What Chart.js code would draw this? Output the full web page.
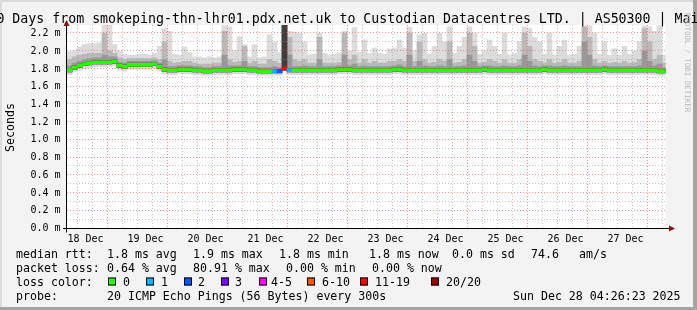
<!DOCTYPE html>
<html><head><meta charset="utf-8">
<script src="https://cdn.jsdelivr.net/npm/chart.js@4/dist/chart.umd.min.js"></script>
<style>html,body{margin:0;padding:0;background:#f3f3f3;overflow:hidden}canvas{display:block}</style>
</head><body>
<canvas id="c" width="697" height="310"></canvas>
<script>
// ---- data (hours since 18 Dec 00:00, 2-hour bins, values in ms) ----
const binHours = [
 6,8,10,12,14,16,18,20,22,24, 26,28,30,32,34,36,38,40,42,44,
 46,48,50,52,54,56,58,60,62,64, 66,68,70,72,74,76,78,80,82,84,
 86,88,90,92,94,96,98,100,102,104, 106,108,110,112,114,116,118,120,122,124,
 126,128,130,132,134,136,138,140,142,144, 146,148,150,152,154,156,158,160,162,164,
 166,168,170,172,174,176,178,180,182,184, 186,188,190,192,194,196,198,200,202,204,
 206,208,210,212,214,216,218,220,222,224, 226,228,230,232,234,236,238,240,242,244];
const medianRtt = [
 1.78,1.81,1.83,1.85,1.86,1.87,1.87,1.87,1.87,1.88,
 1.83,1.82,1.84,1.84,1.84,1.84,1.84,1.85,1.82,1.79,
 1.78,1.78,1.79,1.79,1.79,1.78,1.78,1.77,1.77,1.78,
 1.78,1.78,1.78,1.79,1.79,1.79,1.78,1.78,1.77,1.77,
 1.77,1.77,1.77,1.80,1.78,1.78,1.78,1.78,1.78,1.78,
 1.78,1.78,1.78,1.78,1.79,1.79,1.79,1.78,1.78,1.78,
 1.78,1.78,1.78,1.78,1.78,1.79,1.79,1.78,1.78,1.78,
 1.78,1.78,1.78,1.78,1.78,1.78,1.78,1.78,1.78,1.78,
 1.78,1.78,1.78,1.79,1.78,1.78,1.78,1.78,1.78,1.78,
 1.78,1.78,1.78,1.78,1.78,1.79,1.78,1.78,1.78,1.78,
 1.78,1.78,1.78,1.78,1.78,1.78,1.78,1.79,1.78,1.78,
 1.78,1.78,1.78,1.78,1.78,1.78,1.78,1.78,1.77,1.77];
const lossPct = [
 0,0,0,0,0,0,0,0,0,0, 0,0,0,0,0,0,0,0,0,0,
 0,0,0,0,0,0,0,0,0,0, 0,0,0,0,0,0,0,0,0,0,
 0,1,2,15,1,0,0,0,0,0, 0,0,0,0,0,0,0,0,0,0,
 0,0,0,0,0,0,0,0,0,0, 0,0,0,0,0,0,0,0,0,0,
 0,0,0,0,0,0,0,0,0,0, 0,0,0,0,0,0,0,0,0,0,
 0,0,0,0,0,0,0,0,0,0, 0,0,0,0,0,0,0,0,0,0];
const minRtt = [
 1.73,1.76,1.78,1.80,1.81,1.82,1.82,1.82,1.82,1.83,
 1.78,1.77,1.79,1.79,1.79,1.79,1.79,1.80,1.77,1.74,
 1.73,1.73,1.74,1.74,1.74,1.73,1.73,1.72,1.72,1.73,
 1.73,1.73,1.73,1.74,1.74,1.74,1.73,1.73,1.72,1.72,
 1.72,1.72,1.72,1.77,1.73,1.73,1.73,1.73,1.73,1.73,
 1.73,1.73,1.73,1.73,1.74,1.74,1.74,1.73,1.73,1.73,
 1.73,1.73,1.73,1.73,1.73,1.74,1.74,1.73,1.73,1.73,
 1.73,1.73,1.73,1.73,1.73,1.73,1.73,1.73,1.73,1.73,
 1.73,1.73,1.73,1.74,1.73,1.73,1.73,1.73,1.73,1.73,
 1.73,1.73,1.73,1.73,1.73,1.74,1.73,1.73,1.73,1.73,
 1.73,1.73,1.73,1.73,1.73,1.73,1.73,1.74,1.73,1.73,
 1.73,1.73,1.73,1.73,1.73,1.73,1.73,1.73,1.72,1.72];
const q1Rtt = [
 1.76,1.79,1.81,1.83,1.84,1.85,1.85,1.85,1.85,1.86,
 1.81,1.80,1.82,1.82,1.82,1.82,1.82,1.83,1.80,1.77,
 1.76,1.76,1.77,1.77,1.77,1.76,1.76,1.75,1.75,1.76,
 1.76,1.76,1.76,1.77,1.77,1.77,1.76,1.76,1.75,1.75,
 1.75,1.75,1.75,1.78,1.76,1.76,1.76,1.76,1.76,1.76,
 1.76,1.76,1.76,1.76,1.77,1.77,1.77,1.76,1.76,1.76,
 1.76,1.76,1.76,1.76,1.76,1.77,1.77,1.76,1.76,1.76,
 1.76,1.76,1.76,1.76,1.76,1.76,1.76,1.76,1.76,1.76,
 1.76,1.76,1.76,1.77,1.76,1.76,1.76,1.76,1.76,1.76,
 1.76,1.76,1.76,1.76,1.76,1.77,1.76,1.76,1.76,1.76,
 1.76,1.76,1.76,1.76,1.76,1.76,1.76,1.77,1.76,1.76,
 1.76,1.76,1.76,1.76,1.76,1.76,1.76,1.76,1.75,1.75];
const coreHiRtt = [
 1.80,1.83,1.85,1.87,1.88,1.89,1.89,1.89,1.89,1.90,
 1.85,1.84,1.86,1.86,1.86,1.86,1.86,1.87,1.84,1.81,
 1.80,1.80,1.81,1.81,1.81,1.80,1.80,1.79,1.79,1.80,
 1.80,1.80,1.80,1.81,1.81,1.81,1.80,1.80,1.79,1.79,
 1.79,1.79,1.79,2.29,1.80,1.80,1.80,1.80,1.80,1.80,
 1.80,1.80,1.80,1.80,1.81,1.81,1.81,1.80,1.80,1.80,
 1.80,1.80,1.80,1.80,1.80,1.81,1.81,1.80,1.80,1.80,
 1.80,1.80,1.80,1.80,1.80,1.80,1.80,1.80,1.80,1.80,
 1.80,1.80,1.80,1.81,1.80,1.80,1.80,1.80,1.80,1.80,
 1.80,1.80,1.80,1.80,1.80,1.81,1.80,1.80,1.80,1.80,
 1.80,1.80,1.80,1.80,1.80,1.80,1.80,1.81,1.80,1.80,
 1.80,1.80,1.80,1.80,1.80,1.80,1.80,1.80,1.79,1.79];
const q3Rtt = [
 1.83,1.86,1.88,1.90,1.91,1.92,1.92,1.95,1.93,1.93,
 1.87,1.86,1.88,1.88,1.88,1.88,1.88,1.89,1.86,1.90,
 1.82,1.82,1.83,1.83,1.83,1.82,1.82,1.81,1.81,1.82,
 1.82,1.95,1.83,1.83,1.83,1.88,1.82,1.82,1.81,1.81,
 1.81,1.82,1.81,2.29,1.95,1.82,1.82,1.83,1.82,1.82,
 1.90,1.82,1.82,1.82,1.83,1.95,1.83,1.85,1.82,1.83,
 1.82,1.82,1.82,1.82,1.82,1.83,1.84,1.82,1.95,1.82,
 1.88,1.83,1.82,1.82,1.83,1.82,1.90,1.82,1.82,1.83,
 1.95,1.88,1.82,1.83,1.83,1.82,1.82,1.83,1.82,1.82,
 1.83,1.95,1.88,1.83,1.82,1.83,1.83,1.82,1.82,1.83,
 1.82,1.82,1.82,2.10,1.95,1.83,1.82,1.83,1.82,1.82,
 1.82,1.82,1.82,1.82,1.83,2.00,1.88,1.83,1.85,1.81];
const p90Rtt = [
 1.90,1.93,1.95,1.96,1.97,1.97,1.97,2.20,2.00,1.97,
 1.92,1.90,1.91,1.91,1.91,1.91,1.91,1.92,1.90,2.10,
 1.88,1.86,1.87,1.88,1.88,1.86,1.85,1.85,1.85,1.86,
 1.86,2.22,1.90,1.87,1.88,2.05,1.86,1.88,1.85,1.85,
 1.90,1.88,1.86,2.29,2.15,1.90,1.88,1.90,1.86,1.86,
 2.15,1.86,1.86,1.86,1.87,2.20,1.90,1.95,1.86,1.90,
 1.86,1.88,1.86,1.86,1.88,1.88,1.90,1.88,2.20,1.88,
 2.10,1.90,1.86,1.87,1.90,1.88,2.10,1.86,1.87,1.90,
 2.20,2.05,1.86,1.87,1.90,1.88,1.86,1.90,1.86,1.86,
 1.90,2.20,2.05,1.90,1.88,1.86,1.90,1.86,1.87,1.90,
 1.86,1.86,1.88,2.27,2.15,1.90,1.86,1.88,1.86,1.87,
 1.86,1.88,1.86,1.87,1.90,2.25,2.10,1.90,1.95,1.86];
const maxRtt = [
 1.99,2.00,2.04,2.07,2.08,2.08,2.09,2.29,2.29,2.07,
 2.00,1.96,1.95,1.95,1.96,1.96,1.95,1.97,2.05,2.25,
 2.22,1.96,1.95,2.04,1.98,1.93,1.93,1.92,1.93,1.92,
 1.93,2.28,2.27,2.00,2.16,2.07,1.93,2.07,1.92,1.93,
 2.18,2.10,1.98,2.29,2.22,2.21,2.20,2.10,1.95,1.96,
 2.20,1.97,1.95,1.96,1.98,2.22,2.00,2.26,1.98,2.12,
 1.97,2.03,1.97,1.96,2.02,2.03,2.12,2.03,2.27,2.00,
 2.18,2.20,1.96,2.05,2.20,2.10,2.27,1.97,2.05,2.15,
 2.27,2.20,1.96,2.00,2.12,2.05,1.96,2.20,1.95,1.97,
 2.10,2.27,2.25,2.15,2.10,1.96,2.20,1.95,2.05,2.12,
 1.95,1.96,2.05,2.28,2.28,2.20,1.96,2.10,1.95,2.02,
 1.95,2.05,1.96,2.00,2.10,2.28,2.27,2.22,2.28,1.95];
const dayLabels = ['18 Dec','19 Dec','20 Dec','21 Dec','22 Dec','23 Dec','24 Dec','25 Dec','26 Dec','27 Dec'];
const dayNoonHours = [12,36,60,84,108,132,156,180,204,228];
const yTickValues = [0,0.2,0.4,0.6,0.8,1.0,1.2,1.4,1.6,1.8,2.0,2.2];
const yTickLabels = ['0.0 m','0.2 m','0.4 m','0.6 m','0.8 m','1.0 m','1.2 m','1.4 m','1.6 m','1.8 m','2.0 m','2.2 m'];
const titleText = '0 Days from smokeping-thn-lhr01.pdx.net.uk to Custodian Datacentres LTD. | AS50300 | Mai';
const lossLegendLabels = ['0','1','2','3','4-5','6-10','11-19','20/20'];
const lossLegendColors = ['#26ff00','#00b8ff','#0059ff','#7e00ff','#ff00ff','#ff5500','#ff0000','#a10000'];

function lossColor(l){
  if (l === 0) return lossLegendColors[0];
  if (l === 1) return lossLegendColors[1];
  if (l === 2) return lossLegendColors[2];
  if (l === 3) return lossLegendColors[3];
  if (l <= 5) return lossLegendColors[4];
  if (l <= 10) return lossLegendColors[5];
  if (l <= 19) return lossLegendColors[6];
  return lossLegendColors[7];
}
const band = (lo, hi) => binHours.map((t, i) => ({x: t, y: [lo[i], hi[i]]}));
const barBase = {type: 'bar', grouped: false, barPercentage: 1, categoryPercentage: 1, borderWidth: 0};
const MONO = '"DejaVu Sans Mono", monospace';
const redGrid = 'rgba(255,60,60,0.55)';
const grayGrid = 'rgba(150,150,150,0.55)';

const decor = {
  id: 'decor',
  beforeDraw(chart) {
    const {ctx, chartArea: a} = chart;
    ctx.save();
    ctx.fillStyle = '#f3f3f3'; ctx.fillRect(0, 0, 697, 310);
    ctx.fillStyle = '#dcdcdc'; ctx.fillRect(0, 0, 697, 2); ctx.fillRect(0, 0, 2, 310);
    ctx.fillStyle = '#a4a4a4'; ctx.fillRect(693, 0, 4, 310); ctx.fillRect(0, 307, 697, 3);
    ctx.fillStyle = '#ffffff'; ctx.fillRect(a.left, a.top, a.right - a.left, a.bottom - a.top);
    ctx.restore();
  },
  afterDraw(chart) {
    const {ctx, chartArea: a, scales: {x, y}} = chart;
    ctx.save();
    // axes
    ctx.strokeStyle = '#000'; ctx.lineWidth = 1;
    const y0 = Math.round(y.getPixelForValue(0)) + 0.5;
    const x0 = Math.round(a.left) - 0.5;
    ctx.beginPath(); ctx.moveTo(63, y0); ctx.lineTo(670, y0); ctx.stroke();
    ctx.beginPath(); ctx.moveTo(x0, y0 + 4); ctx.lineTo(x0, 25); ctx.stroke();
    ctx.fillStyle = '#8e1010';
    ctx.beginPath(); ctx.moveTo(669, y0 - 3); ctx.lineTo(675, y0); ctx.lineTo(669, y0 + 3); ctx.closePath(); ctx.fill();
    ctx.beginPath(); ctx.moveTo(x0 - 3, 26); ctx.lineTo(x0, 20); ctx.lineTo(x0 + 3, 26); ctx.closePath(); ctx.fill();
    // y tick labels
    ctx.fillStyle = '#000';
    ctx.font = '10px ' + MONO;
    ctx.textAlign = 'right'; ctx.textBaseline = 'middle';
    yTickValues.forEach((v, i) => ctx.fillText(yTickLabels[i], 60.5, y.getPixelForValue(v) + 0.5));
    // x tick labels
    ctx.textAlign = 'center'; ctx.textBaseline = 'alphabetic';
    dayNoonHours.forEach((h, i) => ctx.fillText(dayLabels[i], x.getPixelForValue(h) + 1, 241.5));
    // title
    ctx.textAlign = 'left';
    ctx.font = '13.25px ' + MONO;
    ctx.fillText(titleText, -3.6, 23);
    // y axis title
    ctx.font = '11.6px ' + MONO;
    ctx.save(); ctx.translate(14, 127.5); ctx.rotate(-Math.PI / 2);
    ctx.textAlign = 'center'; ctx.fillText('Seconds', 0, 0); ctx.restore();
    // watermark
    ctx.save(); ctx.translate(685, 13); ctx.rotate(Math.PI / 2);
    ctx.font = '7.5px ' + MONO; ctx.fillStyle = '#b8b8b8';
    ctx.fillText('RRDTOOL / TOBI OETIKER', 0, 0); ctx.restore();
    // legend
    ctx.fillStyle = '#000';
    ctx.font = '11.6px ' + MONO;
    const r1 = 257.5, r2 = 271.7, r3 = 285.9, r4 = 300.1;
    [['median rtt:',16],['1.8 ms avg',107],['1.9 ms max',193],['1.8 ms min',279],['1.8 ms now',369],['0.0 ms sd',452],['74.6',531],['am/s',579]]
      .forEach(([t, px]) => ctx.fillText(t, px, r1));
    [['packet loss:',16],['0.64 % avg',107],['80.91 % max',193],['0.00 % min',286],['0.00 % now',372]]
      .forEach(([t, px]) => ctx.fillText(t, px, r2));
    ctx.fillText('loss color:', 16, r3);
    const boxX = [108,146,184,221,259,307,360,431];
    const labX = [123,161,198,235,271,322,375,446];
    lossLegendLabels.forEach((lab, i) => {
      ctx.fillStyle = lossLegendColors[i];
      ctx.fillRect(boxX[i], 277.5, 8, 8);
      ctx.strokeStyle = '#000'; ctx.strokeRect(boxX[i] + 0.5, 278, 7, 7);
      ctx.fillStyle = '#000';
      ctx.fillText(lab, labX[i], r3);
    });
    ctx.fillText('probe:', 16, r4);
    ctx.fillText('20 ICMP Echo Pings (56 Bytes) every 300s', 107, r4);
    ctx.fillText('Sun Dec 28 04:26:23 2025', 513, r4);
    ctx.restore();
  }
};

new Chart(document.getElementById('c'), {
  type: 'bar',
  data: {
    datasets: [
      {...barBase, label: 'median', data: binHours.map((t, i) => ({x: t, y: [medianRtt[i] - 0.017, medianRtt[i] + 0.017]})), backgroundColor: lossPct.map(lossColor)},
      {...barBase, label: 'core', data: band(q1Rtt, coreHiRtt), backgroundColor: '#3e3e3e'},
      {...barBase, label: 'q3', data: band(q1Rtt, q3Rtt), backgroundColor: '#989898'},
      {...barBase, label: 'p90', data: band(q1Rtt, p90Rtt), backgroundColor: '#b9b9b9'},
      {...barBase, label: 'max', data: band(minRtt, maxRtt), backgroundColor: '#dcdcdc'}
    ]
  },
  options: {
    responsive: false, animation: false, devicePixelRatio: 1,
    layout: {padding: {left: 67, right: 31.4, top: 25, bottom: 82}},
    plugins: {legend: {display: false}, tooltip: {enabled: false}, title: {display: false}},
    scales: {
      x: {type: 'linear', min: 5, max: 244.44, offset: false,
          ticks: {display: false, stepSize: 6, includeBounds: false, maxTicksLimit: 100},
          grid: {z: 1, drawTicks: false, color: c => (c.tick && c.tick.value % 24 === 0) ? redGrid : grayGrid},
          border: {display: false, dash: [1, 2]}},
      y: {type: 'linear', min: 0, max: 2.29,
          ticks: {display: false, stepSize: 0.1, includeBounds: false, maxTicksLimit: 100},
          grid: {z: 1, drawTicks: false, color: c => (c.tick && Math.round(c.tick.value * 10) % 2 === 0) ? redGrid : grayGrid},
          border: {display: false, dash: [1, 2]}}
    }
  },
  plugins: [decor]
});
</script>
</body></html>
